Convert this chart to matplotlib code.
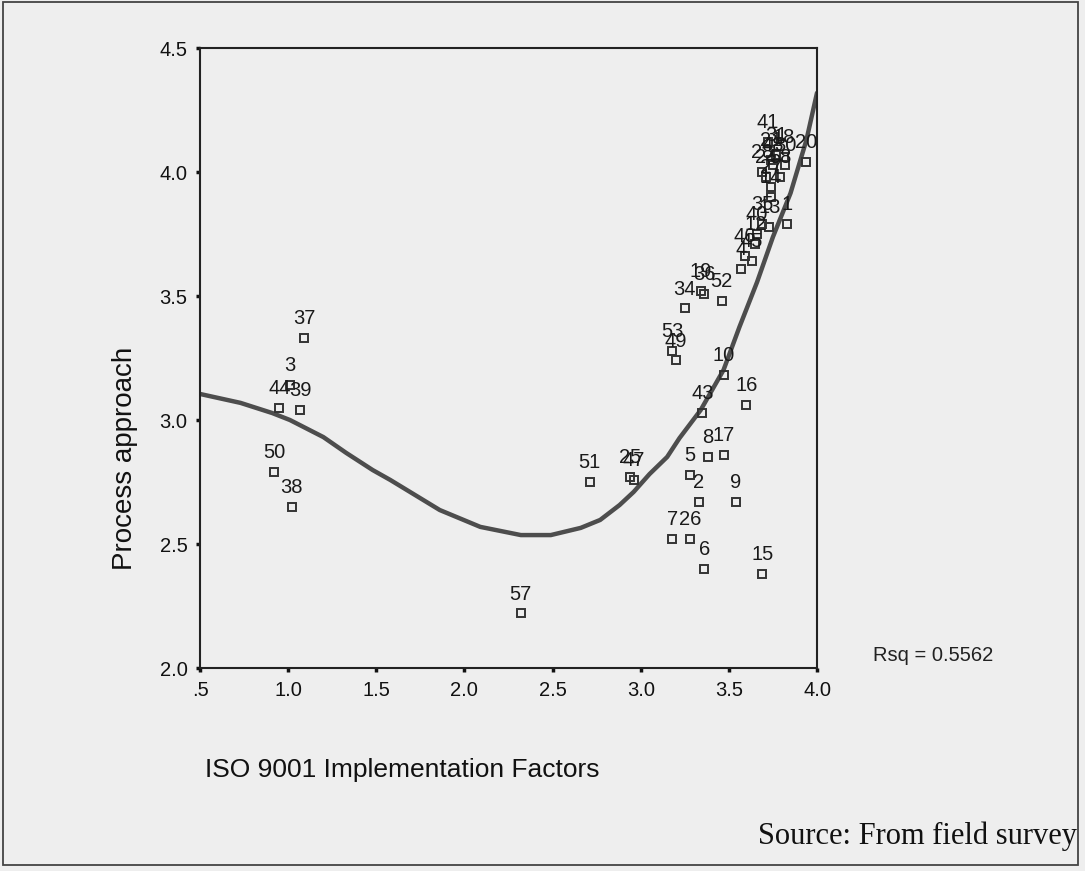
import numpy as np
import matplotlib
matplotlib.use('Agg')
import matplotlib.pyplot as plt
from matplotlib.patches import Rectangle

# case number, mean ISO 9001 implementation score, mean process approach score
case_ids = ['37', '3', '44', '39', '50', '38',
            '57', '51', '25', '47',
            '7', '26', '6', '15', '2', '9', '5', '8', '17',
            '43', '16', '10', '53', '49', '34', '19', '36', '52',
            '4', '45', '46', '12', '40', '35', '13', '1', '14', '27',
            '24', '58', '48', '30', '18', '31', '21', '41', '28', '20']
iso_factors = [1.09, 1.01, 0.95, 1.07, 0.92, 1.02,
               2.32, 2.71, 2.94, 2.96,
               3.18, 3.28, 3.36, 3.69, 3.33, 3.54, 3.28, 3.38, 3.47,
               3.35, 3.60, 3.47, 3.18, 3.20, 3.25, 3.34, 3.36, 3.46,
               3.57, 3.63, 3.59, 3.65, 3.66, 3.69, 3.73, 3.83, 3.74, 3.74,
               3.71, 3.79, 3.75, 3.82, 3.81, 3.77, 3.74, 3.72, 3.69, 3.94]
process_approach = [3.33, 3.14, 3.05, 3.04, 2.79, 2.65,
                    2.22, 2.75, 2.77, 2.76,
                    2.52, 2.52, 2.40, 2.38, 2.67, 2.67, 2.78, 2.85, 2.86,
                    3.03, 3.06, 3.18, 3.28, 3.24, 3.45, 3.52, 3.51, 3.48,
                    3.61, 3.64, 3.66, 3.71, 3.75, 3.79, 3.78, 3.79, 3.90, 3.94,
                    3.98, 3.98, 4.03, 4.03, 4.06, 4.07, 4.05, 4.12, 4.00, 4.04]

# fitted (cubic) curve as plotted by the estimation
fit_x = [0.50, 0.73, 0.91, 1.01, 1.20, 1.33, 1.48, 1.58, 1.86, 2.09, 2.32, 2.49,
         2.66, 2.77, 2.88, 2.96, 3.05, 3.15, 3.22, 3.34, 3.47, 3.56, 3.66, 3.75,
         3.85, 3.94, 4.00]
fit_y = [3.105, 3.069, 3.028, 3.000, 2.931, 2.867, 2.798, 2.758, 2.637, 2.569, 2.536, 2.536,
         2.565, 2.597, 2.657, 2.710, 2.782, 2.851, 2.927, 3.040, 3.202, 3.375, 3.556, 3.738,
         3.915, 4.129, 4.319]

x_ticks = [0.5, 1.0, 1.5, 2.0, 2.5, 3.0, 3.5, 4.0]
x_tick_labels = ['.5', '1.0', '1.5', '2.0', '2.5', '3.0', '3.5', '4.0']
y_ticks = [2.0, 2.5, 3.0, 3.5, 4.0, 4.5]
y_tick_labels = ['2.0', '2.5', '3.0', '3.5', '4.0', '4.5']
rsq_text = 'Rsq = 0.5562'

W, H = 1085, 871
plt.rcParams['font.family'] = ['Liberation Sans', 'DejaVu Sans']

fig = plt.figure(figsize=(W / 100, H / 100), dpi=100, facecolor='#eeeeee')
ax = fig.add_axes([200 / W, 1 - 668 / H, 617 / W, 620 / H])
ax.set_facecolor('none')

ax.plot(fit_x, fit_y, color='#4d4d4d', lw=3.2, solid_capstyle='round',
        solid_joinstyle='round', zorder=2)

ax.plot(iso_factors, process_approach, ls='none', marker='s', ms=6, mfc='none',
        mec='#333333', mew=1.4, zorder=3)
for cid, xi, yi in zip(case_ids, iso_factors, process_approach):
    ax.annotate(cid, (xi, yi), xytext=(0, 10), textcoords='offset points',
                ha='center', va='baseline', fontsize=14.5, color='#1a1a1a', zorder=4)

ax.set_xlim(0.5, 4.0)
ax.set_ylim(2.0, 4.5)
ax.set_xticks(x_ticks)
ax.set_xticklabels(x_tick_labels)
ax.set_yticks(y_ticks)
ax.set_yticklabels(y_tick_labels)
ax.tick_params(direction='out', length=3, width=2.5, labelsize=14.5, pad=6, colors='#111111')
for s in ax.spines.values():
    s.set_linewidth(1.5)
    s.set_color('#222222')

fig.text(125 / W, 1 - 458 / H, 'Process approach', rotation=90, ha='center', va='center',
         fontsize=20, color='#111111')
fig.text(205 / W, 1 - 770 / H, 'ISO 9001 Implementation Factors', ha='left', va='center',
         fontsize=19, color='#111111')
fig.text(873 / W, 1 - 655 / H, rsq_text, ha='left', va='center', fontsize=14.5, color='#222222')
fig.text(1077 / W, 1 - 836 / H, 'Source: From field survey', ha='right', va='center',
         fontsize=22, family=['Liberation Serif', 'DejaVu Serif'], color='#111111')

fig.patches.append(Rectangle((3 / W, 1 - 865 / H), 1075 / W, 863 / H, transform=fig.transFigure,
                             fill=False, ec='#444444', lw=1.3))

fig.savefig('out.png', dpi=100, facecolor=fig.get_facecolor())
